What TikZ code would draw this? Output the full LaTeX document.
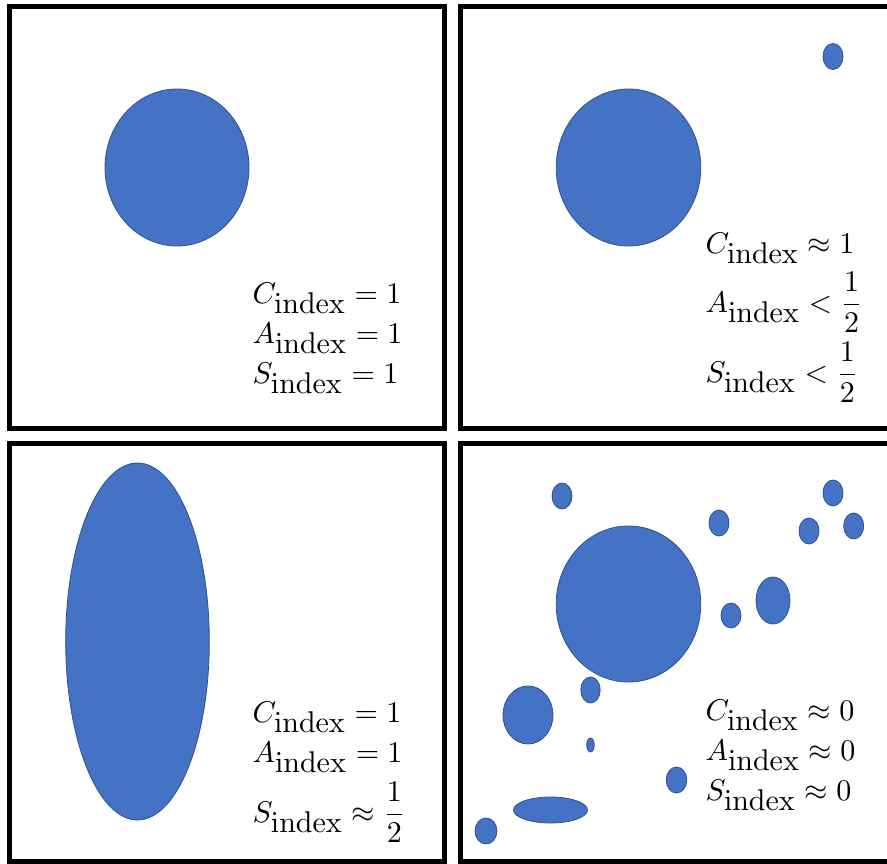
\documentclass[tikz,border=0pt]{standalone}
\usepackage{amsmath}
\usepackage{tikz}

\definecolor{blobblue}{HTML}{4472C4}
\definecolor{blobedge}{HTML}{2F528F}

\newcommand{\idx}[1]{#1_{\textstyle\mathrm{index}}}

\begin{document}
\begin{tikzpicture}[
    x=1pt, y=-1pt,
    panel/.style={draw=black, line width=5pt},
    blob/.style={fill=blobblue, draw=blobedge, line width=0.8pt},
    lbl/.style={anchor=base west, inner sep=0pt, scale=3}
]
\useasboundingbox (0,0) rectangle (887,864);

% four frames
\draw[panel] (9.5,6.5) rectangle (444.5,428.5);
\draw[panel] (460.5,6.5) rectangle (895,428.5);
\draw[panel] (9.5,443) rectangle (444.5,861.5);
\draw[panel] (460.5,443) rectangle (895,861.5);

% top left: one round blob
\draw[blob] (177,167.5) ellipse [x radius=72, y radius=78.5];
\node[lbl] (cone) at (252,303) {$\idx{C} = 1$};
\node[lbl] (aone) at (252,343) {$\idx{A} = 1$};
\node[lbl] (sone) at (252,383) {$\idx{S} = 1$};

% top right: big blob and a far small one
\draw[blob] (628.5,167.5) ellipse [x radius=72.3, y radius=78.5];
\draw[blob] (833,56.5) ellipse [x radius=10, y radius=13];
\node[lbl] (ctwo) at (705,253) {$\idx{C} \approx 1$};
\node[lbl] (atwo) at (705,312) {$\idx{A} < \dfrac{1}{2}$};
\node[lbl] (stwo) at (705,382) {$\idx{S} < \dfrac{1}{2}$};

% bottom left: long blob
\draw[blob] (137.5,641.5) ellipse [x radius=71.8, y radius=178.5];
\node[lbl] (cthree) at (252,722) {$\idx{C} = 1$};
\node[lbl] (athree) at (252,762) {$\idx{A} = 1$};
\node[lbl] (sthree) at (252,822) {$\idx{S} \approx \dfrac{1}{2}$};

% bottom right: scattered blobs
\draw[blob] (628.5,604) ellipse [x radius=72.3, y radius=78];
\foreach \cx/\cy/\rx/\ry in {562/496/10/13, 719/523/10/13, 833/493/10/13,
    809/531/10/13, 853.7/526/10/13, 731/615.5/10/12.5, 773/600.5/17/23.5,
    590.5/690/9.7/13, 528/715/25/29, 590.5/745/3.8/7, 676.5/780/10.3/13,
    550.5/810/37/13, 486/831/11/13}
  \draw[blob] (\cx,\cy) ellipse [x radius=\rx, y radius=\ry];
\node[lbl] (cfour) at (705,720) {$\idx{C} \approx 0$};
\node[lbl] (afour) at (705,760) {$\idx{A} \approx 0$};
\node[lbl] (sfour) at (705,800) {$\idx{S} \approx 0$};
\end{tikzpicture}
\end{document}
